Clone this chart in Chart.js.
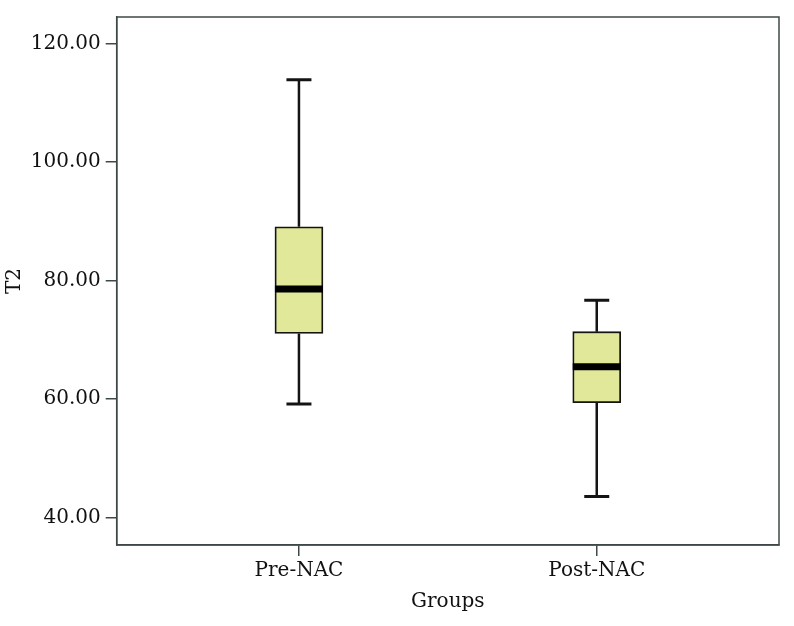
<!DOCTYPE html>
<html>
<head>
<meta charset="utf-8">
<script src="https://cdn.jsdelivr.net/npm/chart.js@4.4.1/dist/chart.umd.min.js"></script>
<style>
  html, body { margin: 0; padding: 0; background: #ffffff; }
  #wrap { width: 794px; height: 626px; }
</style>
</head>
<body>
<div id="wrap"><canvas id="c" width="794" height="626"></canvas></div>
<script>
// Data
const groups = ['Pre-NAC', 'Post-NAC'];
const positions = [1, 2];
const whiskerMin = [59.2, 43.6];
const q1 = [71.1, 59.4];
const median = [78.6, 65.5];
const q3 = [89.1, 71.4];
const whiskerMax = [113.9, 76.7];
const yTicks = [40, 60, 80, 100, 120];

const axisColor = '#3f4848';
const boxFill = '#e1e899';
const lineColor = '#141414';
const fontFamily = '"DejaVu Serif", serif';

const boxPlotPlugin = {
  id: 'boxPlotParts',
  beforeDatasetsDraw(chart) {
    const xs = chart.scales.x, ys = chart.scales.y, ctx = chart.ctx;
    ctx.save();
    ctx.strokeStyle = lineColor;
    positions.forEach((p, i) => {
      const cx = xs.getPixelForValue(p);
      ctx.lineWidth = 2.5;
      ctx.beginPath();
      ctx.moveTo(cx, ys.getPixelForValue(whiskerMin[i]));
      ctx.lineTo(cx, ys.getPixelForValue(q1[i]));
      ctx.moveTo(cx, ys.getPixelForValue(q3[i]));
      ctx.lineTo(cx, ys.getPixelForValue(whiskerMax[i]));
      ctx.stroke();
      ctx.lineWidth = 3;
      ctx.beginPath();
      [whiskerMin[i], whiskerMax[i]].forEach(v => {
        const y = ys.getPixelForValue(v);
        ctx.moveTo(cx - 12.5, y);
        ctx.lineTo(cx + 12.5, y);
      });
      ctx.stroke();
    });
    ctx.restore();
  },
  afterDatasetsDraw(chart) {
    const xs = chart.scales.x, ys = chart.scales.y, ctx = chart.ctx;
    ctx.save();
    ctx.strokeStyle = '#000000';
    ctx.lineWidth = 7;
    positions.forEach((p, i) => {
      const cx = xs.getPixelForValue(p);
      const y = ys.getPixelForValue(median[i]);
      ctx.beginPath();
      ctx.moveTo(cx - 24, y);
      ctx.lineTo(cx + 24, y);
      ctx.stroke();
    });
    ctx.restore();
  },
  afterDraw(chart) {
    const a = chart.chartArea, ctx = chart.ctx;
    ctx.save();
    ctx.strokeStyle = axisColor;
    ctx.lineWidth = 1.5;
    ctx.strokeRect(a.left, a.top, a.right - a.left, a.bottom - a.top);
    ctx.restore();
  }
};

new Chart(document.getElementById('c'), {
  type: 'bar',
  data: {
    datasets: [{
      data: positions.map((p, i) => ({ x: p, y: [q1[i], q3[i]] })),
      backgroundColor: boxFill,
      borderColor: lineColor,
      borderWidth: 1.8,
      borderSkipped: false,
      barThickness: 48
    }]
  },
  plugins: [boxPlotPlugin],
  options: {
    responsive: false,
    animation: false,
    devicePixelRatio: 1,
    layout: { padding: { left: 0, right: 15, top: 16, bottom: 0 } },
    plugins: { legend: { display: false }, tooltip: { enabled: false } },
    scales: {
      x: {
        type: 'linear',
        offset: false,
        min: 0.388,
        max: 2.612,
        afterBuildTicks: s => { s.ticks = positions.map(v => ({ value: v })); },
        afterFit: s => { s.height = 81; },
        grid: { offset: false, drawOnChartArea: false, drawTicks: true, tickLength: 11, color: axisColor, lineWidth: 1.5 },
        border: { display: true, color: axisColor, width: 1.5 },
        ticks: {
          padding: 3,
          color: '#111111',
          font: { family: fontFamily, size: 20 },
          callback: v => groups[positions.indexOf(v)] || ''
        },
        title: {
          display: true, text: 'Groups', color: '#111111',
          font: { family: fontFamily, size: 20 }, padding: { top: 4, bottom: 12 }
        }
      },
      y: {
        type: 'linear',
        min: 35.4,
        max: 124.5,
        afterBuildTicks: s => { s.ticks = yTicks.map(v => ({ value: v })); },
        afterFit: s => { s.width = 116.7; },
        grid: { drawOnChartArea: false, drawTicks: true, tickLength: 11, color: axisColor, lineWidth: 1.5 },
        border: { display: true, color: axisColor, width: 1.5 },
        ticks: {
          padding: 5,
          color: '#111111',
          font: { family: fontFamily, size: 20 },
          callback: v => v.toFixed(2)
        },
        title: {
          display: true, text: 'T2', color: '#111111',
          font: { family: fontFamily, size: 20 }, padding: { top: 3, bottom: 0 }
        }
      }
    }
  }
});
</script>
</body>
</html>
